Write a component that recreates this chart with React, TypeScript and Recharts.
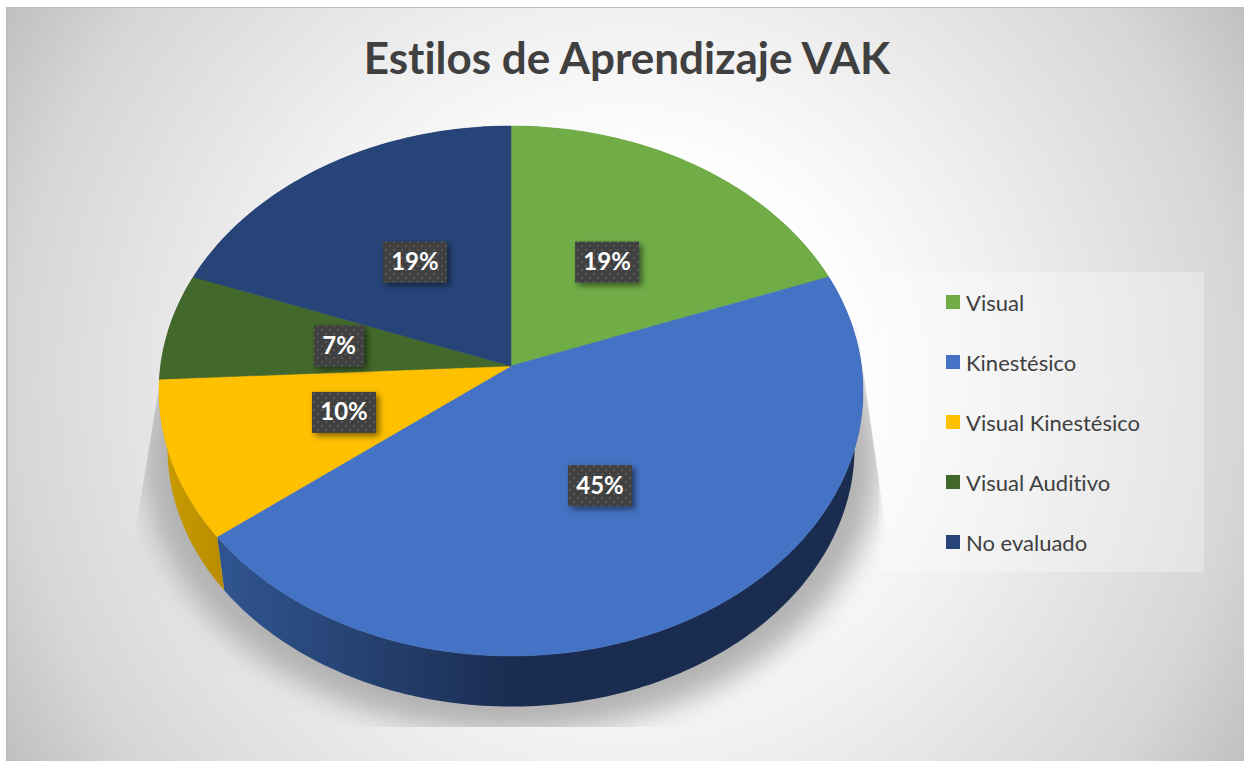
import React from 'react';
import { PieChart, Pie, Cell, Legend } from 'recharts';

const categories = ['Visual', 'Kinestésico', 'Visual Kinestésico', 'Visual Auditivo', 'No evaluado'];
const shares = [19.3, 45.2, 9.7, 6.5, 19.3];
const topColors = ['#70ad47', '#4472c4', '#ffc000', '#43682b', '#264478'];
const wallColors = ['#54823a', 'url(#blueWall)', 'url(#yellowWall)', '#324e20', '#1c335a'];

const chartData = categories.map((name, i) => ({ name, value: shares[i] }));

// perspective of the tilted disc, worked out from where the rim meets the slices
const RX = 350.4;
const RY = 262.6;
const TILT = -0.0943;
const WALL_SCALE = 0.976;
const FONT = 'Lato, sans-serif';

const rimPoint = (cx: number, cy: number, deg: number, f = 1) => {
  const a = (deg * Math.PI) / 180;
  const u = Math.cos(a);
  const v = -Math.sin(a);
  const d = 1 + TILT * f * v;
  return [cx + (RX * f * u) / d, cy + (RY * f * v) / d];
};

const arcPoints = (cx: number, cy: number, start: number, end: number) => {
  const steps = Math.max(2, Math.ceil(Math.abs(end - start)));
  const pts: number[][] = [];
  for (let i = 0; i <= steps; i++) {
    pts.push(rimPoint(cx, cy, start + ((end - start) * i) / steps));
  }
  return pts;
};

const toPath = (pts: number[][]) =>
  'M' + pts.map((p) => `${p[0].toFixed(2)} ${p[1].toFixed(2)}`).join('L') + 'Z';

const TopFace = (props: any) => {
  const { cx, cy, startAngle, endAngle, fill } = props;
  const pts = [[cx, cy], ...arcPoints(cx, cy, startAngle, endAngle)];
  return <path d={toPath(pts)} fill={fill} stroke={fill} strokeWidth={0.5} />;
};

const WallFace = (props: any) => {
  const { cx, cy, startAngle, endAngle, fill } = props;
  const top = arcPoints(cx, cy, startAngle, endAngle);
  const bottom = top
    .map((p) => [cx + WALL_SCALE * (p[0] - cx), cy + 82 + WALL_SCALE * (p[1] - cy - 25)])
    .reverse();
  return <path d={toPath([...top, ...bottom])} fill={fill} />;
};

const DataLabel = (props: any) => {
  const { cx, cy, midAngle, percent } = props;
  const [x, y] = rimPoint(cx, cy, midAngle, 0.5);
  const text = `${Math.round(percent * 100)}%`;
  const w = text.length === 2 ? 50 : 64;
  return (
    <g>
      <rect x={x - w / 2} y={y - 20.5} width={w} height={41} fill="url(#labelDots)" filter="url(#labelShadow)" />
      <text
        x={x}
        y={y + 8}
        textAnchor="middle"
        fill="#ffffff"
        fontFamily={FONT}
        fontWeight={700}
        fontSize={24}
        style={{ fontVariantLigatures: 'none' }}
      >
        {text}
      </text>
    </g>
  );
};

// both pies feed the legend, only the top faces belong in it
const LegendBox = ({ payload }: any) => {
  const entries = (payload || []).filter((entry: any) => topColors.includes(entry.color));
  return (
    <div style={{ width: 325, height: 300, background: 'rgba(255,255,255,0.3)', position: 'relative' }}>
      {entries.map((entry: any, i: number) => (
        <div
          key={entry.value}
          style={{
            position: 'absolute',
            left: 67,
            top: 14 + i * 60,
            height: 32,
            display: 'flex',
            alignItems: 'center',
            fontFamily: FONT,
            fontSize: 22,
            fontVariantLigatures: 'none',
            color: '#404040',
            whiteSpace: 'nowrap',
          }}
        >
          <span style={{ width: 14, height: 14, background: entry.color, marginRight: 6, display: 'inline-block' }} />
          {entry.value}
        </div>
      ))}
    </div>
  );
};

export default function App() {
  return (
    <div style={{ position: 'absolute', left: 0, top: 0, width: 1244, height: 761, background: '#ffffff' }}>
      <div
        style={{
          position: 'absolute',
          left: 6,
          top: 7,
          width: 1238,
          height: 754,
          boxSizing: 'border-box',
          borderTop: '1px solid #bdbdbd',
          borderLeft: '2px solid #bdbdbd',
          background:
            'radial-gradient(circle 724px at 619px 377px, #ffffff 0%, #ffffff 30%, #f0f0f0 52%, #d6d6d6 85%, #c0c0c0 100%)',
        }}
      />
      <div style={{ position: 'absolute', left: 0, top: 0 }}>
        <PieChart width={1244} height={761} margin={{ top: 0, right: 0, bottom: 0, left: 0 }}>
          <defs>
            <linearGradient id="blueWall" gradientUnits="userSpaceOnUse" x1="225" y1="0" x2="510" y2="0">
              <stop offset="0%" stopColor="#30548f" />
              <stop offset="100%" stopColor="#1a2d51" />
            </linearGradient>
            <linearGradient id="yellowWall" gradientUnits="userSpaceOnUse" x1="165" y1="0" x2="225" y2="0">
              <stop offset="0%" stopColor="#c89a00" />
              <stop offset="100%" stopColor="#b88c00" />
            </linearGradient>
            <pattern id="labelDots" patternUnits="userSpaceOnUse" width="8" height="8">
              <rect width="8" height="8" fill="#404040" />
              <rect x="1" y="1" width="2" height="2" fill="#585858" />
              <rect x="5" y="5" width="2" height="2" fill="#585858" />
            </pattern>
            <filter id="labelShadow" x="-30%" y="-30%" width="170%" height="170%">
              <feDropShadow dx="3" dy="3" stdDeviation="3" floodColor="#000000" floodOpacity="0.5" />
            </filter>
            <filter id="discShadow" x="-20%" y="-20%" width="140%" height="140%">
              <feGaussianBlur stdDeviation="14" />
            </filter>
            <clipPath id="shadowClip">
              <polygon points="170,320 133,545 133,727 888,727 888,545 856,320" />
            </clipPath>
          </defs>
          <text
            x={627}
            y={74}
            textAnchor="middle"
            fill="#404040"
            fontFamily={FONT}
            fontWeight={700}
            fontSize={44}
            style={{ fontVariantLigatures: 'none' }}
          >
            Estilos de Aprendizaje VAK
          </text>
          <g clipPath="url(#shadowClip)">
            <ellipse cx={511} cy={460} rx={368} ry={272} fill="#b2b2b2" filter="url(#discShadow)" />
          </g>
          <Pie
            data={chartData}
            dataKey="value"
            nameKey="name"
            cx={511}
            cy={366}
            outerRadius={352}
            startAngle={90}
            endAngle={-270}
            stroke="none"
            legendType="none"
            label={false}
            labelLine={false}
            shape={WallFace}
            isAnimationActive={false}
          >
            {categories.map((name, i) => (
              <Cell key={name} fill={wallColors[i]} />
            ))}
          </Pie>
          <Pie
            data={chartData}
            dataKey="value"
            nameKey="name"
            cx={511}
            cy={366}
            outerRadius={352}
            startAngle={90}
            endAngle={-270}
            stroke="none"
            label={DataLabel}
            labelLine={false}
            shape={TopFace}
            isAnimationActive={false}
          >
            {categories.map((name, i) => (
              <Cell key={name} fill={topColors[i]} />
            ))}
          </Pie>
          <Legend
            content={LegendBox}
            itemSorter={null}
            wrapperStyle={{ position: 'absolute', left: 879, top: 272, width: 325, height: 300 }}
          />
        </PieChart>
      </div>
    </div>
  );
}
